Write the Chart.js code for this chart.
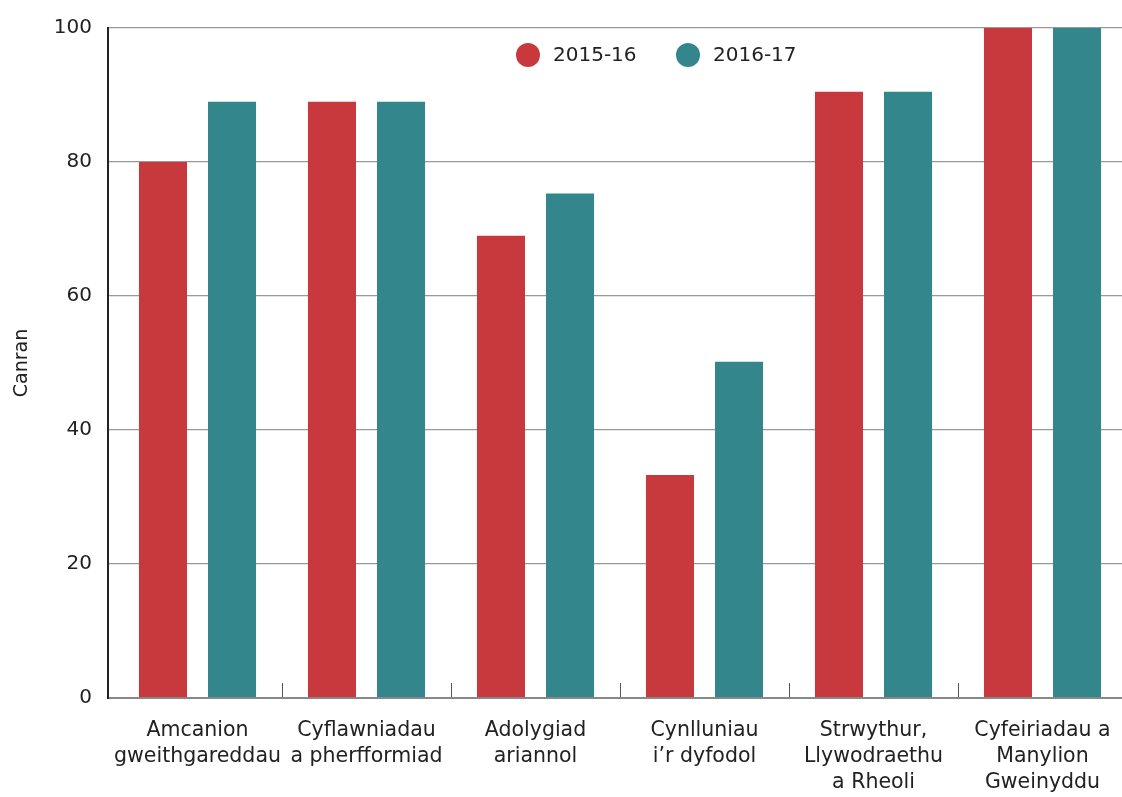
<!DOCTYPE html>
<html>
<head>
<meta charset="utf-8">
<script src="https://cdn.jsdelivr.net/npm/chart.js@4.4.1/dist/chart.umd.min.js"></script>
<style>
    html, body { margin: 0; padding: 0; background: #fff; }
    #chart-container { width: 1122px; height: 797px; position: relative; }
</style>
</head>
<body>
<div id="chart-container"><canvas id="bar-chart"></canvas></div>
<script>
const categories = [
    ['Amcanion', 'gweithgareddau'],
    ['Cyflawniadau', 'a pherfformiad'],
    ['Adolygiad', 'ariannol'],
    ['Cynlluniau', 'i\u2019r dyfodol'],
    ['Strwythur,', 'Llywodraethu', 'a Rheoli'],
    ['Cyfeiriadau a', 'Manylion', 'Gweinyddu']
];
const seriesNames = ['2015-16', '2016-17'];
const values1516 = [80, 89, 69, 33.3, 90.5, 100];
const values1617 = [89, 89, 75.3, 50.2, 90.5, 100];
const yTicks = [0, 20, 40, 60, 80, 100];

const FONT = 'DejaVu Sans';

// legend drawn inside the plot area, like the original
const insideLegend = {
    id: 'insideLegend',
    afterDraw(chart) {
        const ctx = chart.ctx;
        const y = chart.chartArea.top + 27;
        const xs = [528, 688];
        ctx.save();
        ctx.font = '20px "' + FONT + '"';
        ctx.textBaseline = 'middle';
        chart.data.datasets.forEach((ds, i) => {
            ctx.beginPath();
            ctx.arc(xs[i], y, 12, 0, Math.PI * 2);
            ctx.fillStyle = ds.backgroundColor;
            ctx.fill();
            ctx.fillStyle = '#222';
            ctx.fillText(ds.label, xs[i] + 25, y + 1);
        });
        ctx.restore();
    }
};

// the original's categories sit a few px right of the y axis line
const shiftCategories = {
    id: 'shiftCategories',
    afterLayout(chart) {
        const x = chart.scales.x;
        x.left += 5;
        x.right += 5;
        x.configure();
    }
};

const ctx = document.getElementById('bar-chart').getContext('2d');
new Chart(ctx, {
    type: 'bar',
    data: {
        labels: categories,
        datasets: [{
            label: seriesNames[0],
            data: values1516,
            backgroundColor: '#c8393d',
            borderWidth: 0,
            categoryPercentage: 0.817,
            barPercentage: 0.696
        }, {
            label: seriesNames[1],
            data: values1617,
            backgroundColor: '#33878c',
            borderWidth: 0,
            categoryPercentage: 0.817,
            barPercentage: 0.696
        }]
    },
    options: {
        responsive: true,
        maintainAspectRatio: false,
        animation: false,
        layout: { padding: { top: 16, right: 0, left: 11, bottom: 0 } },
        scales: {
            x: {
                afterFit: (scale) => {
                    scale.height = 99;
                    scale.paddingLeft = 0;
                    scale.paddingRight = 0;
                },
                grid: {
                    display: true,
                    offset: true,
                    drawOnChartArea: false,
                    drawTicks: true,
                    tickLength: -15,
                    color: (c) => (c.index === 0 ? 'rgba(0,0,0,0)' : '#555'),
                    lineWidth: 1
                },
                border: { display: false },
                ticks: {
                    color: '#222',
                    padding: 35,
                    maxRotation: 0,
                    autoSkip: false,
                    font: { family: FONT, size: 20.5, lineHeight: 1.26 }
                }
            },
            y: {
                min: 0,
                max: 100,
                afterFit: (scale) => { scale.width = 97; },
                afterBuildTicks: (scale) => { scale.ticks = yTicks.map(v => ({ value: v })); },
                grid: {
                    color: (c) => (c.tick && c.tick.value === 0 ? '#888' : '#999'),
                    lineWidth: (c) => (c.tick && c.tick.value === 0 ? 2 : 1.3),
                    drawTicks: false
                },
                border: { display: true, color: '#222', width: 2 },
                ticks: {
                    color: '#222',
                    padding: 16,
                    font: { family: FONT, size: 20 }
                },
                title: {
                    display: true,
                    text: 'Canran',
                    color: '#222',
                    padding: { top: 0, bottom: 0 },
                    font: { family: FONT, size: 19 }
                }
            }
        },
        plugins: {
            legend: { display: false },
            tooltip: { enabled: false }
        }
    },
    plugins: [insideLegend, shiftCategories]
});
</script>
</body>
</html>
